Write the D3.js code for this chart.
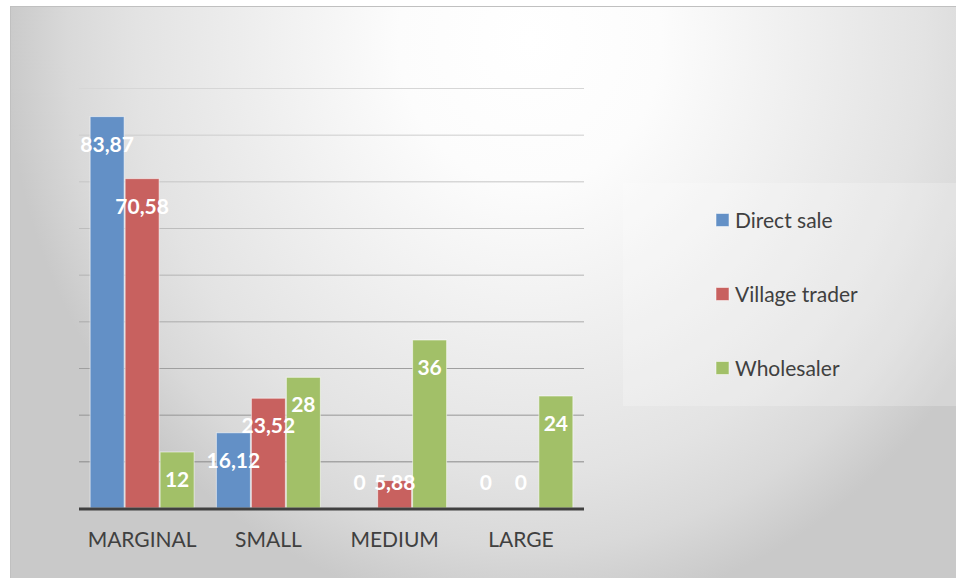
<!DOCTYPE html>
<html><head><meta charset="utf-8">
<script src="https://cdn.jsdelivr.net/npm/d3@7"></script>
<style>html,body{margin:0;padding:0;background:#fff;}svg{display:block;}</style>
</head><body>
<svg id="chart" width="956" height="578"></svg>
<script>
const categories = ["MARGINAL", "SMALL", "MEDIUM", "LARGE"];
const seriesNames = ["Direct sale", "Village trader", "Wholesaler"];
const directSale = [83.87, 16.12, 0, 0];
const villageTrader = [70.58, 23.52, 5.88, 0];
const wholesaler = [12, 28, 36, 24];
const valueLabels = [["83,87","16,12","0","0"],["70,58","23,52","5,88","0"],["12","28","36","24"]];
const gridTicks = [10,20,30,40,50,60,70,80,90];
const colors = ["#6390c6", "#c8615f", "#a2c068"];

const seriesValues = [directSale, villageTrader, wholesaler];
const svg = d3.select("#chart");
const defs = svg.append("defs");
const rg = defs.append("radialGradient").attr("id","bg")
  .attr("gradientUnits","userSpaceOnUse").attr("cx",530).attr("cy",40).attr("r",525)
  .attr("gradientTransform","translate(530,40) scale(1,1.1) translate(-530,-40)");
[[0,"#ffffff"],[0.25,"#fcfcfc"],[0.45,"#f2f2f2"],[0.75,"#e3e3e3"],[0.88,"#d9d9d9"],[1,"#c9c9c9"]]
  .forEach(([o,c])=>rg.append("stop").attr("offset",o).attr("stop-color",c));

svg.append("rect").attr("x",10.5).attr("y",6.5).attr("width",946).attr("height",572)
  .attr("fill","url(#bg)").attr("stroke","#c0c0c0").attr("stroke-width",1);

// legend box
svg.append("rect").attr("x",623).attr("y",183).attr("width",333).attr("height",223)
  .attr("fill","#ffffff").attr("fill-opacity",0.22);

const left = 79, right = 584;
const y = d3.scaleLinear().domain([0,90]).range([508,88]);
const x0 = d3.scaleBand().domain(categories).range([left,right]).padding(0);
const x1 = d3.scaleBand().domain(d3.range(seriesNames.length)).range([0,x0.bandwidth()]).paddingInner(0).paddingOuter(0.304);

const gridColor = d3.scaleLinear().domain([90,50,10]).range(["#d6d6d6","#b4b4b4","#8a8a8a"]);
svg.append("g").selectAll("line").data(gridTicks).join("line")
  .attr("x1",left).attr("x2",right).attr("y1",d=>y(d)+0.5).attr("y2",d=>y(d)+0.5)
  .attr("stroke",d=>gridColor(d)).attr("stroke-width",1);

const bars = [];
seriesValues.forEach((vals,si)=>vals.forEach((v,ci)=>bars.push({si,ci,v,label:valueLabels[si][ci]})));

svg.append("g").selectAll("rect").data(bars.filter(d=>d.v>0)).join("rect")
  .attr("x",d=>x0(categories[d.ci])+x1(d.si)+0.5)
  .attr("y",d=>y(d.v))
  .attr("width",x1.bandwidth()-1)
  .attr("height",d=>y(0)-y(d.v))
  .attr("fill",d=>colors[d.si])
  .attr("stroke","#ffffff").attr("stroke-opacity",0.55).attr("stroke-width",1);

// axis baseline
svg.append("line").attr("x1",left).attr("x2",right).attr("y1",y(0)+1).attr("y2",y(0)+1)
  .attr("stroke","#404040").attr("stroke-width",3);

svg.append("g").selectAll("text").data(bars).join("text")
  .attr("x",d=>x0(categories[d.ci])+x1(d.si)+x1.bandwidth()/2)
  .attr("y",d=>Math.min(y(d.v)+35, y(0)-18))
  .attr("text-anchor","middle")
  .attr("font-family","Lato, 'Open Sans', sans-serif").attr("font-weight","bold").attr("font-size",21)
  .attr("fill","#ffffff").text(d=>d.label);

// category axis labels
const xAxis = d3.axisBottom(x0).tickSize(0).tickPadding(0);
const gx = svg.append("g").attr("transform",`translate(0,${y(0)})`).call(xAxis);
gx.select(".domain").remove();
gx.selectAll("text").attr("y",39).attr("dy",0)
  .attr("font-family","Lato, 'Open Sans', sans-serif").attr("font-size",21).attr("fill","#404040");

// legend
const lg = svg.append("g").selectAll("g").data(seriesNames).join("g")
  .attr("transform",(d,i)=>`translate(716,${220+i*74})`);
lg.append("rect").attr("x",0).attr("y",-6.5).attr("width",13).attr("height",13)
  .attr("fill",(d,i)=>colors[i]).attr("stroke","#ffffff").attr("stroke-opacity",0.5);
lg.append("text").attr("x",19).attr("y",7.5).text(d=>d)
  .attr("font-family","Lato, 'Open Sans', sans-serif").attr("font-size",21).attr("fill","#404040");
</script>
</body></html>
